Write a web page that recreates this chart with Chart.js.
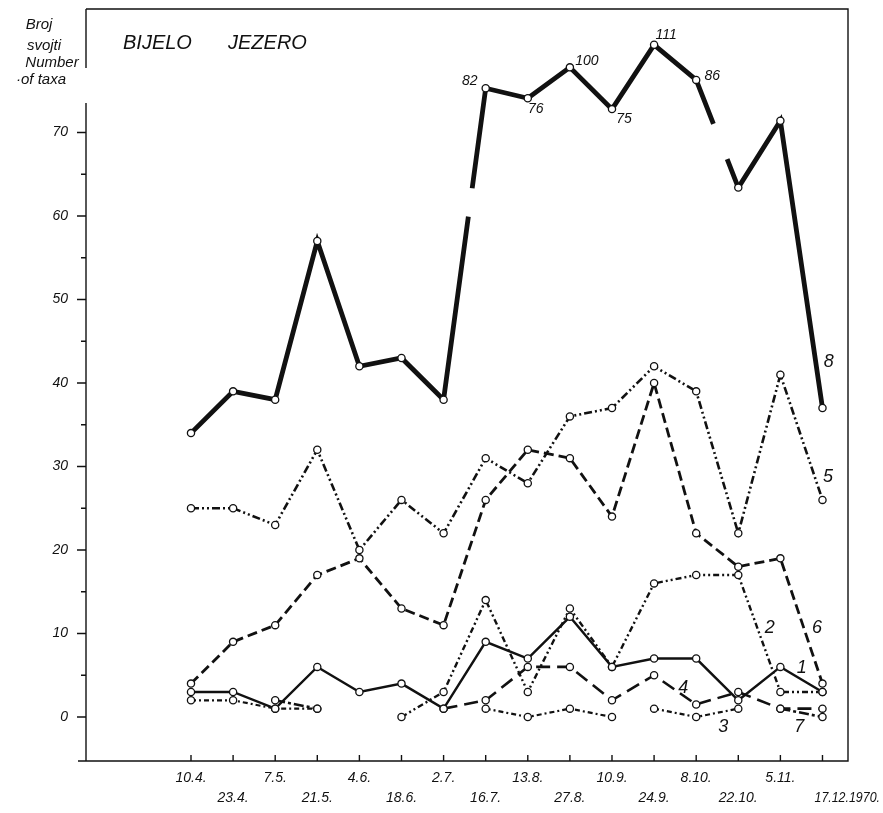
<!DOCTYPE html>
<html>
<head>
<meta charset="utf-8">
<script src="https://cdn.jsdelivr.net/npm/chart.js@4.4.0/dist/chart.umd.min.js"></script>
<style>
  html, body { margin: 0; padding: 0; background: #fff; }
  #wrap { width: 883px; height: 813px; }
</style>
</head>
<body>
<div id="wrap"><canvas id="taxaChart"></canvas></div>
<script>
// === Données: broj svojti, Bijelo jezero 1970 ===
const dates = ['10.4.', '23.4.', '7.5.', '21.5.', '4.6.', '18.6.', '2.7.', '16.7.', '13.8.', '27.8.', '10.9.', '24.9.', '8.10.', '22.10.', '5.11.', '17.12.1970.'];

const taxa1 = [3, 3, 1, 6, 3, 4, 1, 9, 7, 12, 6, 7, 7, 2, 6, 3];
const taxa2 = [null, null, null, null, null, 0, 3, 14, 3, 13, 6, 16, 17, 17, 3, 3];
const taxa3 = [2, 2, 1, 1, null, null, null, 1, 0, 1, 0, 1, 0, 1, null, null];
const taxa4 = [null, null, null, null, null, null, 1, 2, 6, 6, 2, 5, 1.5, 3, 1, 1];
const taxa5 = [25, 25, 23, 32, 20, 26, 22, 31, 28, 36, 37, 42, 39, 22, 41, 26];
const taxa6 = [4, 9, 11, 17, 19, 13, 11, 26, 32, 31, 24, 40, 22, 18, 19, 4];
const taxa7 = [null, null, 2, 1, null, null, null, null, null, null, null, null, null, null, 1, 0];
// line 8: above 70 the axis is squeezed, the real counts are written beside the points
const taxa8 = [34, 39, 38, 57, 42, 43, 38, 75.3, 74.1, 77.8, 72.8, 80.5, 76.3, 63.4, 71.4, 37];
const taxa8Written = [null, null, null, null, null, null, null, '82', '76', '100', '75', '111', '86', null, null, null];

const yTicks = [0, 10, 20, 30, 40, 50, 60, 70];

// === Styles ===
const black = '#111';
const fam = '"Liberation Sans", Arial, sans-serif';
const italic = size => `italic ${size}px ${fam}`;

// pen lifted on some segments (fractions of the segment length)
const breaks8 = { 6: [0.588, 0.679], 12: [0.409, 0.736] };
const gaps3 = [10];

const series = [
  { label: '1', data: taxa1, width: 2.4, dash: [] },
  { label: '2', data: taxa2, width: 2.4, dash: [6, 3, 2, 3, 2, 3] },
  { label: '3', data: taxa3, width: 2.2, dash: [5, 3, 2, 3] },
  { label: '4', data: taxa4, width: 2.6, dash: [14, 7] },
  { label: '5', data: taxa5, width: 2.6, dash: [8, 3, 2, 3, 2, 3] },
  { label: '6', data: taxa6, width: 2.8, dash: [10, 5] },
  { label: '7', data: taxa7, width: 2.6, dash: [10, 3, 3, 3] },
  { label: '8', data: taxa8, width: 4.8, dash: [] }
];

series[2].segment = {
  borderColor: c => gaps3.includes(c.p0DataIndex) ? 'rgba(0,0,0,0)' : undefined
};
series[7].segment = {
  borderDash: c => {
    const b = breaks8[c.p0DataIndex];
    if (!b) return undefined;
    const L = Math.hypot(c.p1.x - c.p0.x, c.p1.y - c.p0.y);
    return [b[0] * L, (b[1] - b[0]) * L, L];
  }
};

// series numbers, placed in data units
const seriesNames = [
  { t: '8', x: 15.15, y: 42.5 },
  { t: '5', x: 15.13, y: 28.7 },
  { t: '2', x: 13.75, y: 10.7 },
  { t: '6', x: 14.87, y: 10.7 },
  { t: '1', x: 14.51, y: 5.9 },
  { t: '4', x: 11.69, y: 3.5 },
  { t: '3', x: 12.64, y: -1.2 },
  { t: '7', x: 14.45, y: -1.2 }
];
const writtenOffsets = { 7: [-16, -7], 8: [8, 11], 9: [17, -6], 10: [12, 10], 11: [12, -10], 12: [16, -4] };

const decor = {
  id: 'decor',
  beforeDatasetsDraw(chart) {
    const { ctx, chartArea: a, scales: { x, y } } = chart;
    ctx.save();
    ctx.strokeStyle = black;
    ctx.lineWidth = 1.4;
    ctx.beginPath();
    ctx.moveTo(a.left, a.top); ctx.lineTo(a.right, a.top);
    ctx.lineTo(a.right, a.bottom); ctx.lineTo(a.left - 8, a.bottom);
    // left axis, broken beside its title
    ctx.moveTo(a.left, a.top); ctx.lineTo(a.left, 68);
    ctx.moveTo(a.left, 103); ctx.lineTo(a.left, a.bottom);
    // y ticks
    for (let v = 0; v <= 70; v += 5) {
      const py = y.getPixelForValue(v);
      ctx.moveTo(a.left - (v % 10 ? 5 : 9), py); ctx.lineTo(a.left, py);
    }
    // x ticks (inside)
    dates.forEach((d, i) => {
      const px = x.getPixelForValue(i);
      ctx.moveTo(px, a.bottom); ctx.lineTo(px, a.bottom - 6);
    });
    ctx.stroke();
    ctx.restore();
  },
  afterDraw(chart) {
    const { ctx, chartArea: a, scales: { x, y } } = chart;
    ctx.save();
    ctx.fillStyle = black;
    ctx.textBaseline = 'middle';

    // dates in two rows
    ctx.font = italic(14);
    dates.forEach((d, i) => {
      const px = x.getPixelForValue(i);
      const py = a.bottom + (i % 2 ? 37 : 17);
      if (i === dates.length - 1) {
        ctx.textAlign = 'left';
        ctx.fillText(d, px - 8, py, chart.width - px + 5);
      } else {
        ctx.textAlign = 'center';
        ctx.fillText(d, px, py);
      }
    });

    // title
    ctx.textAlign = 'left';
    ctx.font = italic(20);
    ctx.fillText('BIJELO', 123, 43);
    ctx.fillText('JEZERO', 228, 43);

    // y axis title
    ctx.textAlign = 'center';
    ctx.font = italic(15);
    ctx.fillText('Broj', 39, 25);
    ctx.fillText('svojti', 44, 46);
    ctx.fillText('Number', 52, 63);
    ctx.fillText('·of taxa', 41, 80);

    // series numbers
    ctx.font = italic(18);
    seriesNames.forEach(n => ctx.fillText(n.t, x.getPixelForValue(n.x), y.getPixelForValue(n.y)));

    // real counts of line 8
    ctx.font = italic(14);
    const pts = chart.getDatasetMeta(7).data;
    taxa8Written.forEach((t, i) => {
      if (!t) return;
      const o = writtenOffsets[i];
      ctx.fillText(t, pts[i].x + o[0], pts[i].y + o[1]);
    });
    ctx.restore();
  }
};

new Chart(document.getElementById('taxaChart'), {
  type: 'line',
  data: {
    datasets: series.map(s => ({
      label: s.label,
      data: s.data.map((v, i) => ({ x: i, y: v })),
      borderColor: black,
      borderWidth: s.width,
      borderDash: s.dash,
      pointRadius: 3.6,
      pointBorderWidth: 1.3,
      pointBackgroundColor: '#fff',
      pointBorderColor: black,
      tension: 0,
      segment: s.segment,
      clip: false
    }))
  },
  options: {
    responsive: true,
    maintainAspectRatio: false,
    animation: false,
    layout: { padding: { top: 9, right: 35, left: 0, bottom: 0 } },
    plugins: { legend: { display: false }, tooltip: { enabled: false } },
    scales: {
      x: {
        type: 'linear', min: -2.494, max: 15.606,
        ticks: { display: false },
        grid: { display: false, drawTicks: false },
        border: { display: false },
        afterFit(s) { s.height = 52; s.paddingLeft = 0; s.paddingRight = 0; }
      },
      y: {
        min: -5.27, max: 84.79,
        afterBuildTicks(s) { s.ticks = yTicks.map(v => ({ value: v })); },
        ticks: { color: black, padding: 18, font: { family: fam, size: 14, style: 'italic' } },
        grid: { display: false, drawTicks: false },
        border: { display: false },
        afterFit(s) { s.width = 86; s.paddingTop = 0; s.paddingBottom = 0; }
      }
    }
  },
  plugins: [decor]
});
</script>
</body>
</html>
